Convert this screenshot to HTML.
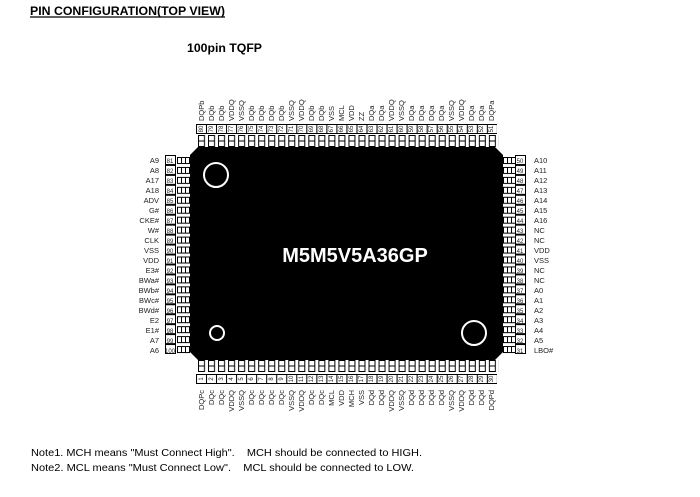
<!DOCTYPE html>
<html><head><meta charset="utf-8"><style>
body{margin:0;background:#fff;width:700px;height:497px;overflow:hidden}
svg{display:block}
text{font-family:"Liberation Sans",Arial,sans-serif}
.l{font-size:7.5px;fill:#222}
.n{font-size:6px;fill:#222}
</style></head><body>
<svg width="700" height="497" viewBox="0 0 700 497" xmlns="http://www.w3.org/2000/svg">
<defs>
<pattern id="ts" x="198" y="135" width="10.03" height="12" patternUnits="userSpaceOnUse"><rect x="0.5" y="0.5" width="6" height="11" fill="#fff" stroke="#000" stroke-width="1"/><line x1="0.5" y1="6" x2="6.5" y2="6" stroke="#000"/></pattern>
<pattern id="bs" x="198" y="360" width="10.03" height="12" patternUnits="userSpaceOnUse"><rect x="0.5" y="0.5" width="6" height="11" fill="#fff" stroke="#000" stroke-width="1"/><line x1="0.5" y1="6" x2="6.5" y2="6" stroke="#000"/></pattern>
<pattern id="tb" x="196" y="124" width="10.03" height="10" patternUnits="userSpaceOnUse"><rect x="0.5" y="0.5" width="10" height="9" fill="#fff" stroke="#000" stroke-width="1"/></pattern>
<pattern id="bb" x="196" y="374" width="10.03" height="10" patternUnits="userSpaceOnUse"><rect x="0.5" y="0.5" width="10" height="9" fill="#fff" stroke="#000" stroke-width="1"/></pattern>
<pattern id="ls" x="177" y="157" width="13" height="9.95" patternUnits="userSpaceOnUse"><rect x="0.5" y="0.5" width="12" height="6" fill="#fff" stroke="#000"/><line x1="4.5" y1="0.5" x2="4.5" y2="6.5" stroke="#000"/><line x1="8.5" y1="0.5" x2="8.5" y2="6.5" stroke="#000"/></pattern>
<pattern id="rs" x="503" y="157" width="13" height="9.95" patternUnits="userSpaceOnUse"><rect x="0.5" y="0.5" width="12" height="6" fill="#fff" stroke="#000"/><line x1="4.5" y1="0.5" x2="4.5" y2="6.5" stroke="#000"/><line x1="8.5" y1="0.5" x2="8.5" y2="6.5" stroke="#000"/></pattern>
<pattern id="lb" x="165" y="155" width="11" height="9.95" patternUnits="userSpaceOnUse"><rect x="0.5" y="0.5" width="10" height="9" fill="#fff" stroke="#000"/></pattern>
<pattern id="rb" x="515" y="155" width="11" height="9.95" patternUnits="userSpaceOnUse"><rect x="0.5" y="0.5" width="10" height="9" fill="#fff" stroke="#000"/></pattern>
</defs>

<text x="30" y="15" font-size="11.5" font-weight="bold" fill="#000" textLength="195" lengthAdjust="spacingAndGlyphs">PIN CONFIGURATION(TOP VIEW)</text>
<line x1="30" y1="17" x2="225" y2="17" stroke="#000" stroke-width="1.2"/>
<text x="187" y="52" font-size="11.5" font-weight="bold" fill="#000" textLength="75" lengthAdjust="spacingAndGlyphs">100pin TQFP</text>

<rect x="196" y="124" width="301" height="10" fill="url(#tb)"/>
<rect x="198" y="135" width="301" height="12" fill="url(#ts)"/>
<rect x="196" y="374" width="301" height="10" fill="url(#bb)"/>
<rect x="198" y="360" width="301" height="12" fill="url(#bs)"/>
<rect x="177" y="157" width="13" height="199" fill="url(#ls)"/>
<rect x="503" y="157" width="13" height="199" fill="url(#rs)"/>
<rect x="165" y="155" width="11" height="199" fill="url(#lb)"/>
<rect x="515" y="155" width="11" height="199" fill="url(#rb)"/>

<polygon points="198,147 495,147 503,155 503,352 495,360 198,360 190,352 190,155" fill="#000"/>
<circle cx="216" cy="175" r="12" fill="none" stroke="#fff" stroke-width="2"/>
<circle cx="217" cy="333" r="7" fill="none" stroke="#fff" stroke-width="2"/>
<circle cx="474" cy="333" r="12" fill="none" stroke="#fff" stroke-width="2"/>
<text x="355" y="262" font-size="20" font-weight="bold" fill="#fff" text-anchor="middle">M5M5V5A36GP</text>

<g class="l" text-anchor="end">
<text x="159" y="163">A9</text><text x="159" y="173">A8</text><text x="159" y="183">A17</text><text x="159" y="193">A18</text><text x="159" y="203">ADV</text><text x="159" y="213">G#</text><text x="159" y="223">CKE#</text><text x="159" y="233">W#</text><text x="159" y="243">CLK</text><text x="159" y="253">VSS</text><text x="159" y="263">VDD</text><text x="159" y="273">E3#</text><text x="159" y="283">BWa#</text><text x="159" y="293">BWb#</text><text x="159" y="303">BWc#</text><text x="159" y="313">BWd#</text><text x="159" y="323">E2</text><text x="159" y="333">E1#</text><text x="159" y="343">A7</text><text x="159" y="353">A6</text>
</g>
<g class="n" text-anchor="middle">
<text x="170" y="163">81</text><text x="170" y="173">82</text><text x="170" y="183">83</text><text x="170" y="193">84</text><text x="170" y="203">85</text><text x="170" y="213">86</text><text x="170" y="223">87</text><text x="170" y="233">88</text><text x="170" y="243">89</text><text x="170" y="253">90</text><text x="170" y="263">91</text><text x="170" y="273">92</text><text x="170" y="283">93</text><text x="170" y="293">94</text><text x="170" y="303">95</text><text x="170" y="313">96</text><text x="170" y="323">97</text><text x="170" y="333">98</text><text x="170" y="343">99</text><text x="170" y="353">100</text>
<text x="520" y="163">50</text><text x="520" y="173">49</text><text x="520" y="183">48</text><text x="520" y="193">47</text><text x="520" y="203">46</text><text x="520" y="213">45</text><text x="520" y="223">44</text><text x="520" y="233">43</text><text x="520" y="243">42</text><text x="520" y="253">41</text><text x="520" y="263">40</text><text x="520" y="273">39</text><text x="520" y="283">38</text><text x="520" y="293">37</text><text x="520" y="303">36</text><text x="520" y="313">35</text><text x="520" y="323">34</text><text x="520" y="333">33</text><text x="520" y="343">32</text><text x="520" y="353">31</text>
</g>
<g class="l">
<text x="534" y="163">A10</text><text x="534" y="173">A11</text><text x="534" y="183">A12</text><text x="534" y="193">A13</text><text x="534" y="203">A14</text><text x="534" y="213">A15</text><text x="534" y="223">A16</text><text x="534" y="233">NC</text><text x="534" y="243">NC</text><text x="534" y="253">VDD</text><text x="534" y="263">VSS</text><text x="534" y="273">NC</text><text x="534" y="283">NC</text><text x="534" y="293">A0</text><text x="534" y="303">A1</text><text x="534" y="313">A2</text><text x="534" y="323">A3</text><text x="534" y="333">A4</text><text x="534" y="343">A5</text><text x="534" y="353">LBO#</text>
</g>

<g class="l">
<text transform="translate(204,121) rotate(-90)">DQPb</text>
<text transform="translate(214,121) rotate(-90)">DQb</text>
<text transform="translate(224,121) rotate(-90)">DQb</text>
<text transform="translate(234,121) rotate(-90)">VDDQ</text>
<text transform="translate(244,121) rotate(-90)">VSSQ</text>
<text transform="translate(254,121) rotate(-90)">DQb</text>
<text transform="translate(264,121) rotate(-90)">DQb</text>
<text transform="translate(274,121) rotate(-90)">DQb</text>
<text transform="translate(284,121) rotate(-90)">DQb</text>
<text transform="translate(294,121) rotate(-90)">VSSQ</text>
<text transform="translate(304,121) rotate(-90)">VDDQ</text>
<text transform="translate(314,121) rotate(-90)">DQb</text>
<text transform="translate(324,121) rotate(-90)">DQb</text>
<text transform="translate(334,121) rotate(-90)">VSS</text>
<text transform="translate(344,121) rotate(-90)">MCL</text>
<text transform="translate(354,121) rotate(-90)">VDD</text>
<text transform="translate(364,121) rotate(-90)">ZZ</text>
<text transform="translate(374,121) rotate(-90)">DQa</text>
<text transform="translate(384,121) rotate(-90)">DQa</text>
<text transform="translate(394,121) rotate(-90)">VDDQ</text>
<text transform="translate(404,121) rotate(-90)">VSSQ</text>
<text transform="translate(414,121) rotate(-90)">DQa</text>
<text transform="translate(424,121) rotate(-90)">DQa</text>
<text transform="translate(434,121) rotate(-90)">DQa</text>
<text transform="translate(444,121) rotate(-90)">DQa</text>
<text transform="translate(454,121) rotate(-90)">VSSQ</text>
<text transform="translate(464,121) rotate(-90)">VDDQ</text>
<text transform="translate(474,121) rotate(-90)">DQa</text>
<text transform="translate(484,121) rotate(-90)">DQa</text>
<text transform="translate(494,121) rotate(-90)">DQPa</text>
</g>
<g class="l" text-anchor="end">
<text transform="translate(204,390) rotate(-90)">DQPc</text>
<text transform="translate(214,390) rotate(-90)">DQc</text>
<text transform="translate(224,390) rotate(-90)">DQc</text>
<text transform="translate(234,390) rotate(-90)">VDDQ</text>
<text transform="translate(244,390) rotate(-90)">VSSQ</text>
<text transform="translate(254,390) rotate(-90)">DQc</text>
<text transform="translate(264,390) rotate(-90)">DQc</text>
<text transform="translate(274,390) rotate(-90)">DQc</text>
<text transform="translate(284,390) rotate(-90)">DQc</text>
<text transform="translate(294,390) rotate(-90)">VSSQ</text>
<text transform="translate(304,390) rotate(-90)">VDDQ</text>
<text transform="translate(314,390) rotate(-90)">DQc</text>
<text transform="translate(324,390) rotate(-90)">DQc</text>
<text transform="translate(334,390) rotate(-90)">MCL</text>
<text transform="translate(344,390) rotate(-90)">VDD</text>
<text transform="translate(354,390) rotate(-90)">MCH</text>
<text transform="translate(364,390) rotate(-90)">VSS</text>
<text transform="translate(374,390) rotate(-90)">DQd</text>
<text transform="translate(384,390) rotate(-90)">DQd</text>
<text transform="translate(394,390) rotate(-90)">VDDQ</text>
<text transform="translate(404,390) rotate(-90)">VSSQ</text>
<text transform="translate(414,390) rotate(-90)">DQd</text>
<text transform="translate(424,390) rotate(-90)">DQd</text>
<text transform="translate(434,390) rotate(-90)">DQd</text>
<text transform="translate(444,390) rotate(-90)">DQd</text>
<text transform="translate(454,390) rotate(-90)">VSSQ</text>
<text transform="translate(464,390) rotate(-90)">VDDQ</text>
<text transform="translate(474,390) rotate(-90)">DQd</text>
<text transform="translate(484,390) rotate(-90)">DQd</text>
<text transform="translate(494,390) rotate(-90)">DQPd</text>
</g>

<g class="n" text-anchor="middle">
<text transform="translate(203,129) rotate(-90)">80</text><text transform="translate(213,129) rotate(-90)">79</text><text transform="translate(223,129) rotate(-90)">78</text><text transform="translate(233,129) rotate(-90)">77</text><text transform="translate(243,129) rotate(-90)">76</text><text transform="translate(253,129) rotate(-90)">75</text><text transform="translate(263,129) rotate(-90)">74</text><text transform="translate(273,129) rotate(-90)">73</text><text transform="translate(283,129) rotate(-90)">72</text><text transform="translate(293,129) rotate(-90)">71</text><text transform="translate(303,129) rotate(-90)">70</text><text transform="translate(313,129) rotate(-90)">69</text><text transform="translate(323,129) rotate(-90)">68</text><text transform="translate(333,129) rotate(-90)">67</text><text transform="translate(343,129) rotate(-90)">66</text><text transform="translate(353,129) rotate(-90)">65</text><text transform="translate(363,129) rotate(-90)">64</text><text transform="translate(373,129) rotate(-90)">63</text><text transform="translate(383,129) rotate(-90)">62</text><text transform="translate(393,129) rotate(-90)">61</text><text transform="translate(403,129) rotate(-90)">60</text><text transform="translate(413,129) rotate(-90)">59</text><text transform="translate(423,129) rotate(-90)">58</text><text transform="translate(433,129) rotate(-90)">57</text><text transform="translate(443,129) rotate(-90)">56</text><text transform="translate(453,129) rotate(-90)">55</text><text transform="translate(463,129) rotate(-90)">54</text><text transform="translate(473,129) rotate(-90)">53</text><text transform="translate(483,129) rotate(-90)">52</text><text transform="translate(493,129) rotate(-90)">51</text>
<text transform="translate(203,379) rotate(-90)">1</text><text transform="translate(213,379) rotate(-90)">2</text><text transform="translate(223,379) rotate(-90)">3</text><text transform="translate(233,379) rotate(-90)">4</text><text transform="translate(243,379) rotate(-90)">5</text><text transform="translate(253,379) rotate(-90)">6</text><text transform="translate(263,379) rotate(-90)">7</text><text transform="translate(273,379) rotate(-90)">8</text><text transform="translate(283,379) rotate(-90)">9</text><text transform="translate(293,379) rotate(-90)">10</text><text transform="translate(303,379) rotate(-90)">11</text><text transform="translate(313,379) rotate(-90)">12</text><text transform="translate(323,379) rotate(-90)">13</text><text transform="translate(333,379) rotate(-90)">14</text><text transform="translate(343,379) rotate(-90)">15</text><text transform="translate(353,379) rotate(-90)">16</text><text transform="translate(363,379) rotate(-90)">17</text><text transform="translate(373,379) rotate(-90)">18</text><text transform="translate(383,379) rotate(-90)">19</text><text transform="translate(393,379) rotate(-90)">20</text><text transform="translate(403,379) rotate(-90)">21</text><text transform="translate(413,379) rotate(-90)">22</text><text transform="translate(423,379) rotate(-90)">23</text><text transform="translate(433,379) rotate(-90)">24</text><text transform="translate(443,379) rotate(-90)">25</text><text transform="translate(453,379) rotate(-90)">26</text><text transform="translate(463,379) rotate(-90)">27</text><text transform="translate(473,379) rotate(-90)">28</text><text transform="translate(483,379) rotate(-90)">29</text><text transform="translate(493,379) rotate(-90)">30</text>
</g>

<text x="31" y="456" font-size="10.5" fill="#000" xml:space="preserve" textLength="391" lengthAdjust="spacingAndGlyphs">Note1. MCH means "Must Connect High".    MCH should be connected to HIGH.</text>
<text x="31" y="471" font-size="10.5" fill="#000" xml:space="preserve" textLength="383" lengthAdjust="spacingAndGlyphs">Note2. MCL means "Must Connect Low".    MCL should be connected to LOW.</text>
</svg>
</body></html>
